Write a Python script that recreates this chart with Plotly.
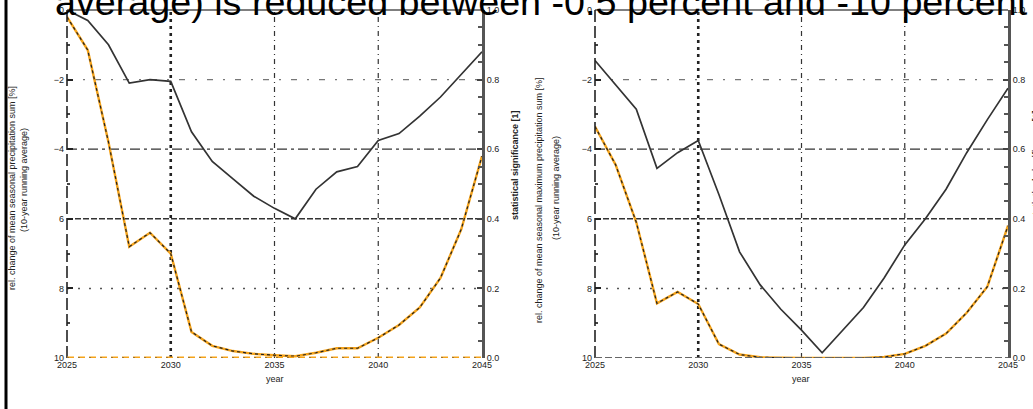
import plotly.graph_objects as go

# ---------------- data ----------------
years = list(range(2025, 2046))

# left panel: relative change [%] (left axis) and significance [1] (right axis)
left_change = [0.0, -0.3, -1.0, -2.1, -2.0, -2.05, -3.5, -4.35, -4.85, -5.35, -5.7,
               -6.0, -5.15, -4.65, -4.5, -3.75, -3.55, -3.05, -2.5, -1.85, -1.2]
left_signif = [0.98, 0.885, 0.62, 0.32, 0.36, 0.30, 0.075, 0.035, 0.02, 0.012, 0.008,
               0.005, 0.015, 0.028, 0.028, 0.058, 0.095, 0.145, 0.23, 0.37, 0.58]

# right panel
right_change = [-1.45, -2.15, -2.85, -4.55, -4.1, -3.75, -5.3, -6.95, -7.9, -8.6, -9.2,
                -9.85, -9.2, -8.55, -7.7, -6.75, -6.0, -5.15, -4.1, -3.15, -2.25]
right_signif = [0.665, 0.555, 0.39, 0.157, 0.19, 0.155, 0.04, 0.01, 0.002, 0.0, 0.0,
                0.0, 0.0, 0.0, 0.003, 0.012, 0.035, 0.07, 0.13, 0.205, 0.38]

x_ticks = [2025, 2030, 2035, 2040, 2045]
x_ticktext = ["2025", "2030", "2035", "2040", "2045"]
y_ticks = [0, -2, -4, -6, -8, -10]
y_ticktext = ["0", "\u22122", "\u22124", "6", "8", "10"]
s_ticks = [0.0, 0.2, 0.4, 0.6, 0.8, 1.0]
s_ticktext = ["0.0", "0.2", "0.4", "0.6", "0.8", "1.0"]

caption = "average) is reduced between -0.5 percent and -10 percent"
ytitle_l1 = "rel. change of mean seasonal precipitation sum [%]"
ytitle_r1 = "rel. change of mean seasonal maximum precipitation sum [%]"
ytitle_2 = "(10-year running average)"
y2title = "statistical significance [1]"
xtitle = "year"

# ---------------- layout geometry ----------------
W, H = 1033, 409
def px_x(p): return p / W
def px_y(p): return 1 - p / H

dom_y = [px_y(358), px_y(10)]
dom_x1 = [px_x(67), px_x(482)]
dom_x2 = [px_x(595), px_x(1008)]

fig = go.Figure()

ORANGE = "#f5a31a"
DARK = "#333333"

def add_panel(xa, ya, ya2, change, signif):
    fig.add_trace(go.Scatter(x=years, y=change, xaxis=xa, yaxis=ya, mode="lines",
                             line=dict(color=DARK, width=1.7), cliponaxis=False,
                             showlegend=False))
    fig.add_trace(go.Scatter(x=years, y=signif, xaxis=xa, yaxis=ya2, mode="lines",
                             line=dict(color=ORANGE, width=2.4), cliponaxis=False,
                             showlegend=False))
    fig.add_trace(go.Scatter(x=years, y=signif, xaxis=xa, yaxis=ya2, mode="lines",
                             line=dict(color="#222222", width=1.2, dash="3px,3px"),
                             cliponaxis=False, showlegend=False))

add_panel("x", "y", "y2", left_change, left_signif)
add_panel("x2", "y3", "y4", right_change, right_signif)

tickfont = dict(family="Liberation Sans", size=9, color="#222222")

def yaxis_left(domain_anchor):
    return dict(domain=dom_y, anchor=domain_anchor, range=[-10, 0], tickvals=y_ticks,
                ticktext=y_ticktext, ticks="inside", ticklen=6, tickwidth=1.5,
                tickcolor="#222", showgrid=False, zeroline=False, showline=False,
                tickfont=tickfont, ticklabelstandoff=2, automargin=False,
                minor=dict(dtick=1, ticks="inside", ticklen=3, tickcolor="#444",
                           showgrid=False))

def yaxis_right(over, anchor):
    return dict(overlaying=over, anchor=anchor, side="right", range=[0, 1],
                tickvals=s_ticks, ticktext=s_ticktext, ticks="inside", ticklen=5,
                tickwidth=1.5, tickcolor="#444", showline=True, linewidth=3,
                linecolor="#555555", showgrid=False, zeroline=False, tickfont=tickfont,
                automargin=False,
                minor=dict(dtick=0.05, ticks="inside", ticklen=4, tickcolor="#555",
                           showgrid=False))

def xaxis(domain, anchor):
    return dict(domain=domain, anchor=anchor, range=[2025, 2045], tickvals=x_ticks,
                ticktext=x_ticktext, ticks="", showgrid=False, zeroline=False,
                showline=False, tickfont=tickfont, ticklabelstandoff=0,
                automargin=False)

fig.update_layout(
    width=W, height=H, margin=dict(l=0, r=0, t=0, b=0, pad=0, autoexpand=False),
    paper_bgcolor="white", plot_bgcolor="white",
    xaxis=xaxis(dom_x1, "y"), yaxis=yaxis_left("x"), yaxis2=yaxis_right("y", "x"),
    xaxis2=xaxis(dom_x2, "y3"), yaxis3=yaxis_left("x2"), yaxis4=yaxis_right("y3", "x2"),
)

# ---------------- grid lines / frame ----------------
hgrid = {
    -2: dict(color="#777777", width=1.2, dash="6px,10px,2px,10px"),
    -4: dict(color="#333333", width=1.2, dash="10px,4px,3px,4px"),
    -6: dict(color="#333333", width=1.6, dash="6px,2px"),
    -8: dict(color="#555555", width=1.5, dash="2px,9px"),
}
vgrid = {
    2030: dict(color="#222222", width=2.6, dash="3px,4px"),
    2035: dict(color="#333333", width=1.2, dash="5px,4px,1px,4px"),
    2040: dict(color="#333333", width=1.2, dash="5px,4px,1px,4px"),
}
shapes = []
for xa, ya, ya2 in (("x", "y", "y2"), ("x2", "y3", "y4")):
    for yv, st in hgrid.items():
        shapes.append(dict(type="line", xref=f"{xa} domain", yref=ya, x0=0, x1=1,
                           y0=yv, y1=yv, line=st, layer="below"))
    for xv, st in vgrid.items():
        shapes.append(dict(type="line", xref=xa, yref=f"{ya} domain", x0=xv, x1=xv,
                           y0=0, y1=1, line=st, layer="below"))
    # top frame
    shapes.append(dict(type="line", xref=f"{xa} domain", yref=f"{ya} domain",
                       x0=0, x1=1, y0=1, y1=1, line=dict(color="#555", width=1.5)))
    # left spine (dashed)
    shapes.append(dict(type="line", xref=f"{xa} domain", yref=f"{ya} domain",
                       x0=0, x1=0, y0=0, y1=1,
                       line=dict(color="#222", width=1.6, dash="12px,4px")))
# bottom lines
shapes.append(dict(type="line", xref="x domain", yref="y2", x0=0, x1=1, y0=0, y1=0,
                   line=dict(color=ORANGE, width=2.8, dash="7px,4px")))
shapes.append(dict(type="line", xref="x domain", yref="y2", x0=0, x1=1, y0=0, y1=0,
                   line=dict(color="#444", width=1, dash="2px,9px")))
shapes.append(dict(type="line", xref="x2 domain", yref="y4", x0=0, x1=1, y0=0, y1=0,
                   line=dict(color="#666", width=2, dash="7px,3px")))
# thick page frame line on the left
shapes.append(dict(type="line", xref="paper", yref="paper", x0=px_x(6), x1=px_x(6),
                   y0=0, y1=1, line=dict(color="black", width=3)))
fig.update_layout(shapes=shapes)

# ---------------- texts ----------------
small = dict(family="Liberation Sans", size=9, color="#222222")

def side_text(text, xp, yp, angle=0, bold=False):
    return dict(text=("<b>" + text + "</b>") if bold else text, xref="paper",
                yref="paper", x=px_x(xp), y=px_y(yp), xanchor="center",
                yanchor="middle", textangle=angle, showarrow=False, font=small)

ann = [
    dict(text=caption, xref="paper", yref="paper", x=px_x(53), y=px_y(25),
         xanchor="left", yanchor="bottom", showarrow=False,
         font=dict(family="Liberation Sans", size=37.7, color="black")),
    side_text(ytitle_l1, 12, 188, -90),
    side_text(ytitle_2, 24, 180, -90),
    side_text(ytitle_r1, 539, 200, -90),
    side_text(ytitle_2, 556, 188, -90),
    side_text(y2title, 515, 165, -90, bold=True),
    side_text(y2title, 1036, 165, -90, bold=True),
    side_text(xtitle, 275, 379),
    side_text(xtitle, 801, 379),
]
fig.update_layout(annotations=ann)

fig.write_html("out.html", config={"displayModeBar": False},
               post_script="document.body.style.margin='0';document.body.style.padding='0';")
